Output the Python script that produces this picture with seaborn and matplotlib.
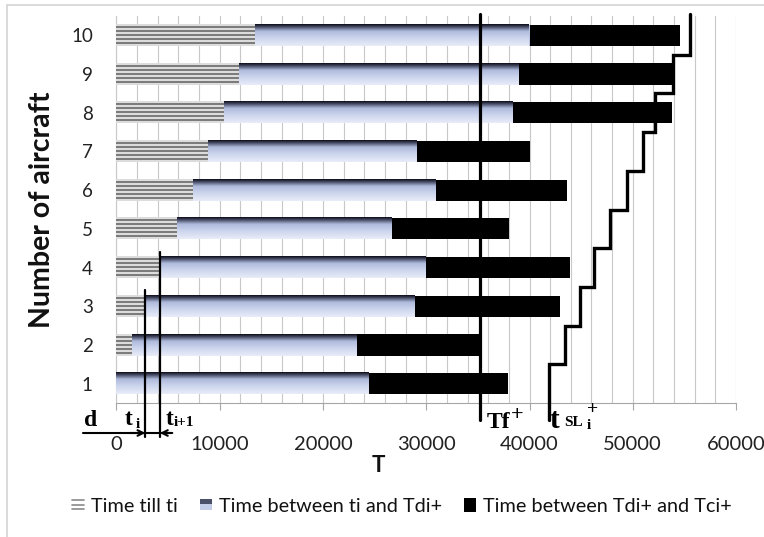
import numpy as np
import matplotlib
matplotlib.use("Agg")
import matplotlib.pyplot as plt
import seaborn as sns
from matplotlib.colors import LinearSegmentedColormap, ListedColormap
from matplotlib.lines import Line2D
from matplotlib.patches import Rectangle, Patch
from matplotlib.legend_handler import HandlerBase

# ---------------- data ----------------
aircraft = [1, 2, 3, 4, 5, 6, 7, 8, 9, 10]
time_till_ti = [0, 1500, 2800, 4200, 5900, 7400, 8900, 10400, 11900, 13400]
tdi_plus = [24500, 23300, 28900, 30000, 26700, 30900, 29100, 38400, 39000, 40000]
tci_plus = [37900, 35200, 43000, 43900, 38000, 43600, 40000, 53800, 53900, 54600]
t_sl_plus = [41900, 43400, 44900, 46200, 47800, 49400, 51000, 52200, 53900, 55500]
tf_plus = 35200
x_ticks = [0, 10000, 20000, 30000, 40000, 50000, 60000]
legend_labels = ["Time till ti", "Time between ti and Tdi+", "Time between Tdi+ and Tci+"]

# ---------------- style ----------------
sns.set_style("white")
plt.rcParams["font.family"] = ["Lato", "DejaVu Sans"]

W, H = 764, 537
def fx(px):
    return px / W
def fy(py):
    return 1 - py / H

fig = plt.figure(figsize=(W / 100, H / 100), dpi=100)
ax = fig.add_axes([fx(116.5), fy(403), 619.5 / W, 387 / H])

bar_w = 0.55

def draw_layer(values, color, z):
    n0 = len(ax.patches)
    sns.barplot(x=values, y=aircraft, orient="y", native_scale=True, color=color,
                saturation=1, width=bar_w, ax=ax, linewidth=0)
    ps = ax.patches[n0:]
    for p in ps:
        p.set_zorder(z)
    return ps

black_p = draw_layer(tci_plus, "black", 2)
blue_p = draw_layer(tdi_plus, "#b8c3e3", 3)
gray_p = draw_layer(time_till_ti, "#cfcfcf", 4)

# gradient for blue segments
grad_cmap = LinearSegmentedColormap.from_list(
    "g", [(0.0, "#0d0d18"), (0.10, "#3b4058"), (0.32, "#aebadc"), (0.6, "#c9d2ec"), (1.0, "#e9edf8")])
grad = np.linspace(0, 1, 64).reshape(-1, 1)
for p in blue_p:
    x0, y0, w, h = p.get_x(), p.get_y(), p.get_width(), p.get_height()
    if w <= 0:
        continue
    ax.imshow(grad, cmap=grad_cmap, extent=[x0, x0 + w, y0, y0 + h], origin="upper",
              aspect="auto", interpolation="bilinear", zorder=3.1)

stripe_cmap = ListedColormap(["#dcdcdc", "#7c7c7c"])
stripes = np.array([0, 1, 0, 1, 0, 1, 0, 1, 0, 1, 0]).reshape(-1, 1)
for p in gray_p:
    x0, y0, w, h = p.get_x(), p.get_y(), p.get_width(), p.get_height()
    if w <= 0:
        continue
    ax.imshow(stripes, cmap=stripe_cmap, extent=[x0, x0 + w, y0, y0 + h], origin="upper",
              aspect="auto", interpolation="nearest", zorder=4.1, vmin=0, vmax=1)

# axes formatting
ax.set_xlim(0, 60000)
ax.set_ylim(0.5, 10.5)
ax.set_xticks(x_ticks)
ax.set_xticklabels([str(v) for v in x_ticks])
ax.set_xticks(np.arange(0, 60001, 2000), minor=True)
ax.set_yticks(aircraft)
ax.set_yticklabels([str(a) for a in aircraft])
ax.grid(axis="x", which="both", color="#c8c8c8", lw=0.8, zorder=0)
ax.grid(axis="y", visible=False)
ax.set_axisbelow(True)
ax.tick_params(axis="x", which="major", length=5, color="#a6a6a6", pad=19, labelsize=14.5,
               direction="out", bottom=True, labelcolor="#222222")
ax.tick_params(axis="x", which="minor", length=0)
ax.tick_params(axis="y", length=0, pad=17, labelsize=13.5, labelcolor="#222222")
for s in ["top", "right"]:
    ax.spines[s].set_visible(False)
ax.spines["bottom"].set_color("#a6a6a6")
ax.spines["left"].set_color("#c8c8c8")

ax.set_ylabel("Number of aircraft", fontsize=20.5, fontweight="bold", color="#111111")
ax.yaxis.set_label_coords(-0.099, 0.5)
ax.set_xlabel("T", fontsize=16, fontweight="bold", color="#111111")
ax.xaxis.set_label_coords(0.422, -0.135)

# Tf+ vertical line
ax.axvline(tf_plus, ymin=-0.044, ymax=1.005, color="black", lw=2.3, clip_on=False, zorder=6)

# t_i and t_{i+1} lines
t_i = time_till_ti[2]
t_i1 = time_till_ti[3]
ax.plot([t_i, t_i], [-0.38, aircraft[2] + 0.41], color="black", lw=1.6, clip_on=False, zorder=6)
ax.plot([t_i1, t_i1], [-0.38, aircraft[3] + 0.39], color="black", lw=1.6, clip_on=False, zorder=6)

# step line t_SL
xs = np.repeat(t_sl_plus, 2)
ys = []
for i, a in enumerate(aircraft):
    lo = a - 0.5 if i > 0 else 0.06
    hi = a + 0.5 if i < len(aircraft) - 1 else 10.55
    ys += [lo, hi]
ax.plot(xs, ys, color="black", lw=2.4, clip_on=False, zorder=6, solid_joinstyle="miter")

# d arrow
ya = -0.275
ax.plot([-3250, 5300], [ya, ya], color="black", lw=1.5, clip_on=False, zorder=6)
ax.annotate("", xy=(t_i, ya), xytext=(t_i - 1500, ya), annotation_clip=False,
            arrowprops=dict(arrowstyle="->", lw=1.5, color="black", shrinkA=0, shrinkB=0,
                            mutation_scale=10))
ax.annotate("", xy=(t_i1, ya), xytext=(t_i1 + 1200, ya), annotation_clip=False,
            arrowprops=dict(arrowstyle="->", lw=1.5, color="black", shrinkA=0, shrinkB=0,
                            mutation_scale=10))

# annotation texts (bold serif)
serif = dict(family="Liberation Serif", weight="bold", color="black")
def stext(px, py, s, size, va="baseline", ha="left"):
    fig.text(fx(px), fy(py), s, fontsize=size, va=va, ha=ha, **serif)

stext(84, 426, "d", 17)
stext(125, 425, "t", 17)
stext(136, 428, "i", 11)
stext(166, 425, "t", 17)
stext(174, 426, "i+1", 11)
stext(487, 428, "Tf", 17)
stext(517, 415, "+", 16, va="center", ha="center")
stext(549, 428, "t", 21)
stext(564, 426, "SL", 11)
stext(587, 429, "i", 11)
stext(593, 410, "+", 14, va="center", ha="center")

# legend with custom handles
class StripeHandler(HandlerBase):
    def create_artists(self, legend, orig_handle, xdescent, ydescent, width, height, fontsize, trans):
        arts = []
        for k in range(3):
            yy = -ydescent + height * (0.2 + 0.3 * k)
            arts.append(Line2D([-xdescent, -xdescent + width], [yy, yy], color="#8a8a8a", lw=1.2,
                               transform=trans))
        return arts

class GradHandler(HandlerBase):
    def create_artists(self, legend, orig_handle, xdescent, ydescent, width, height, fontsize, trans):
        r1 = Rectangle((-xdescent, -ydescent + height * 0.1), width, height * 0.45,
                       facecolor="#c4cde8", edgecolor="none", transform=trans)
        r2 = Rectangle((-xdescent, -ydescent + height * 0.55), width, height * 0.35,
                       facecolor="#4a5068", edgecolor="none", transform=trans)
        return [r1, r2]

h1 = Patch(facecolor="#cfcfcf")
h2 = Patch(facecolor="#b8c3e3")
h3 = Patch(facecolor="black", edgecolor="none")
fig.legend([h1, h2, h3], legend_labels, loc="center", bbox_to_anchor=(fx(402), fy(506)),
           ncol=3, frameon=False, fontsize=14.3, handlelength=0.6, handleheight=0.7,
           handletextpad=0.35, columnspacing=1.1, labelcolor="#111111",
           handler_map={h1: StripeHandler(), h2: GradHandler()})

# figure border (left and top)
fig.add_artist(Line2D([fx(7), fx(7)], [fy(5), 0], transform=fig.transFigure, color="#d4d4d4", lw=1.2))
fig.add_artist(Line2D([fx(7), 1], [fy(5), fy(5)], transform=fig.transFigure, color="#d4d4d4", lw=1.2))

fig.savefig("out.png", dpi=100)
